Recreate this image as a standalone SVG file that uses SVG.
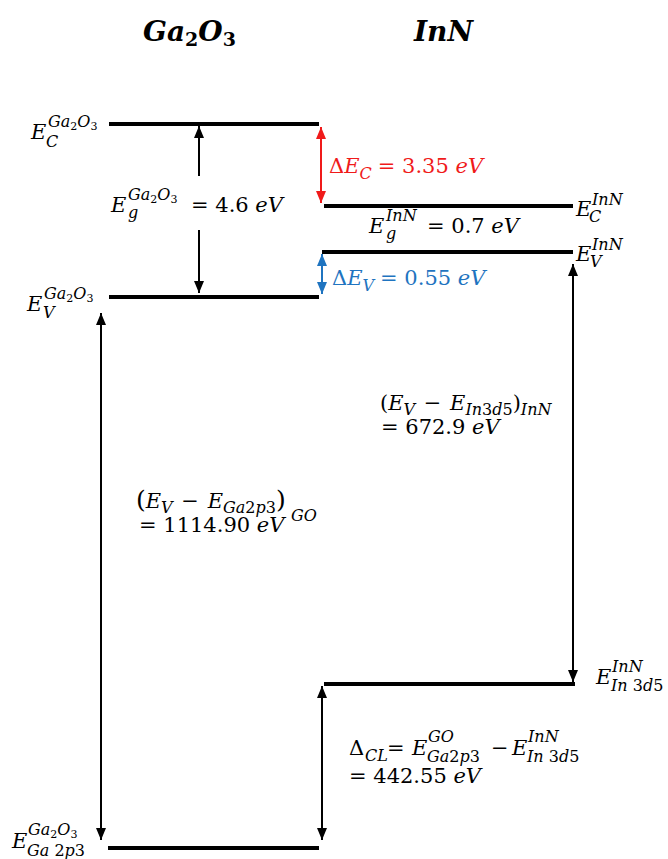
<svg xmlns="http://www.w3.org/2000/svg" width="668" height="859" viewBox="0 0 668 859">
<style>
text{font-family:"DejaVu Serif","Liberation Serif",serif;fill:#000;font-size:21px}
.i{font-style:italic}
.s{font-size:16px}
.ss{font-size:11px}
.ttl{font-size:28px;font-weight:bold;font-style:italic}
.lvl{stroke:#000;stroke-width:4;fill:none}
.ar{stroke:#000;stroke-width:2;fill:none}
.red{fill:#f01a1a}
.blue{fill:#1f74c0}
</style>
<defs>
<marker id="ah" viewBox="0 0 12 10" markerWidth="12" markerHeight="10" refX="12" refY="5" orient="auto-start-reverse" markerUnits="userSpaceOnUse"><path d="M0,0L12,5L0,10z" fill="#000"/></marker>
<marker id="ahr" viewBox="0 0 12 10" markerWidth="12" markerHeight="10" refX="12" refY="5" orient="auto-start-reverse" markerUnits="userSpaceOnUse"><path d="M0,0L12,5L0,10z" fill="#f01a1a"/></marker>
<marker id="ahb" viewBox="0 0 12 10" markerWidth="12" markerHeight="10" refX="12" refY="5" orient="auto-start-reverse" markerUnits="userSpaceOnUse"><path d="M0,0L12,5L0,10z" fill="#1f74c0"/></marker>
</defs>
<rect width="668" height="859" fill="#fff"/>

<g id="title-ga2o3"><text class="ttl" x="143" y="41">Ga<tspan font-size="19" font-style="normal" dy="5">2</tspan><tspan dy="-5">O</tspan><tspan font-size="19" font-style="normal" dy="5">3</tspan></text></g>
<g id="title-inn"><text class="ttl" x="414" y="41">InN</text></g>

<g id="ec-ga2o3">
<line class="lvl" x1="109" y1="124" x2="319" y2="124"/>
<text class="i" x="31" y="139">E</text>
<text class="s" x="48" y="127"><tspan class="i">Ga</tspan><tspan class="ss" dy="3">2</tspan><tspan class="i" dy="-3">O</tspan><tspan class="ss" dy="3">3</tspan></text>
<text class="s i" x="46" y="147">C</text>
</g>

<g id="ev-ga2o3">
<line class="lvl" x1="109" y1="297" x2="319" y2="297"/>
<text class="i" x="27" y="311">E</text>
<text class="s" x="44" y="299"><tspan class="i">Ga</tspan><tspan class="ss" dy="3">2</tspan><tspan class="i" dy="-3">O</tspan><tspan class="ss" dy="3">3</tspan></text>
<text class="s i" x="43" y="318">V</text>
</g>

<g id="ec-inn">
<line class="lvl" x1="324" y1="206" x2="573" y2="206"/>
<text class="i" x="576" y="216">E</text>
<text class="s i" x="592" y="205">InN</text>
<text class="s i" x="589" y="222">C</text>
</g>

<g id="ev-inn">
<line class="lvl" x1="322" y1="252" x2="573" y2="252"/>
<text class="i" x="576" y="261">E</text>
<text class="s i" x="592" y="250">InN</text>
<text class="s i" x="590" y="267">V</text>
</g>

<g id="in3d5-inn">
<line class="lvl" x1="324" y1="684" x2="575" y2="684"/>
<text class="i" x="596" y="684">E</text>
<text class="s i" x="612" y="672">InN</text>
<text class="s" x="611" y="691"><tspan class="i">In</tspan> 3<tspan class="i">d</tspan>5</text>
</g>

<g id="ga2p3-ga2o3">
<line class="lvl" x1="108" y1="848" x2="319" y2="848"/>
<text class="i" x="12" y="848">E</text>
<text class="s" x="28" y="835"><tspan class="i">Ga</tspan><tspan class="ss" dy="3">2</tspan><tspan class="i" dy="-3">O</tspan><tspan class="ss" dy="3">3</tspan></text>
<text class="s" x="27" y="856"><tspan class="i">Ga</tspan> 2<tspan class="i">p</tspan>3</text>
</g>

<g id="connectors">
<line class="ar" x1="199" y1="176" x2="199" y2="126" marker-end="url(#ah)"/>
<line class="ar" x1="199" y1="230" x2="199" y2="293" marker-end="url(#ah)"/>
<line class="ar" x1="321" y1="127" x2="321" y2="203" style="stroke:#f01a1a" marker-start="url(#ahr)" marker-end="url(#ahr)"/>
<line class="ar" x1="322" y1="254" x2="322" y2="294" style="stroke:#1f74c0" marker-start="url(#ahb)" marker-end="url(#ahb)"/>
<line class="ar" x1="573" y1="264" x2="573" y2="682" marker-start="url(#ah)" marker-end="url(#ah)"/>
<line class="ar" x1="101" y1="313" x2="101" y2="840" marker-start="url(#ah)" marker-end="url(#ah)"/>
<line class="ar" x1="322" y1="686" x2="322" y2="840" marker-start="url(#ah)" marker-end="url(#ah)"/>
</g>

<g id="label-eg-ga2o3">
<text class="i" x="111" y="212">E</text>
<text class="s" x="128" y="200"><tspan class="i">Ga</tspan><tspan class="ss" dy="3">2</tspan><tspan class="i" dy="-3">O</tspan><tspan class="ss" dy="3">3</tspan></text>
<text class="s i" x="128" y="218">g</text>
<text x="191" y="212">= 4.6 <tspan class="i">eV</tspan></text>
</g>

<g id="label-dec">
<text class="red" x="329" y="173">Δ<tspan class="i">E</tspan><tspan class="s i" dy="6">C</tspan><tspan dy="-6" dx="6">= 3.35 </tspan><tspan class="i">eV</tspan></text>
</g>

<g id="label-eg-inn">
<text class="i" x="369" y="233">E</text>
<text class="s i" x="386" y="221">InN</text>
<text class="s i" x="386" y="239">g</text>
<text x="427" y="233">= 0.7 <tspan class="i">eV</tspan></text>
</g>

<g id="label-dev">
<text class="blue" x="332" y="285">Δ<tspan class="i">E</tspan><tspan class="s i" dy="6">V</tspan><tspan dy="-6" dx="6">= 0.55 </tspan><tspan class="i">eV</tspan></text>
</g>

<g id="label-inn-core">
<text x="380" y="410">(<tspan class="i">E</tspan><tspan class="s i" dy="5">V</tspan><tspan dy="-5" dx="2"> − </tspan><tspan class="i" dx="2">E</tspan><tspan class="s" dy="5"><tspan class="i">In</tspan>3<tspan class="i">d</tspan>5</tspan><tspan dy="-5">)</tspan><tspan class="s i" dy="5">InN</tspan></text>
<text x="381" y="434">= 672.9 <tspan class="i">eV</tspan></text>
</g>

<g id="label-go-core">
<text x="136" y="508"><tspan font-size="25">(</tspan><tspan class="i">E</tspan><tspan class="s i" dy="5">V</tspan><tspan dy="-5" dx="2"> − </tspan><tspan class="i" dx="2">E</tspan><tspan class="s" dy="5"><tspan class="i">Ga</tspan>2<tspan class="i">p</tspan>3</tspan><tspan dy="-5" font-size="25">)</tspan></text>
<text class="s i" x="291" y="521">GO</text>
<text x="139" y="532">= 1114.90 <tspan class="i">eV</tspan></text>
</g>

<g id="label-dcl">
<text x="349" y="755">Δ</text>
<text class="s i" x="365" y="761">CL</text>
<text x="387" y="755">=</text>
<text class="i" x="412" y="755">E</text>
<text class="s i" x="428" y="742">GO</text>
<text class="s" x="427" y="762"><tspan class="i">Ga</tspan>2<tspan class="i">p</tspan>3</text>
<text x="491" y="755">−</text>
<text class="i" x="512" y="755">E</text>
<text class="s i" x="528" y="742">InN</text>
<text class="s" x="527" y="762"><tspan class="i">In</tspan> 3<tspan class="i">d</tspan>5</text>
<text x="349" y="783">= 442.55 <tspan class="i">eV</tspan></text>
</g>
</svg>
